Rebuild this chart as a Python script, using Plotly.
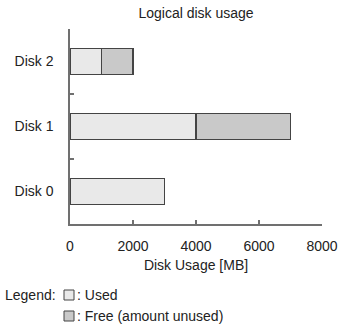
import plotly.graph_objects as go

disks = ["Disk 0", "Disk 1", "Disk 2"]
used = [3000, 4000, 1000]
free = [0, 3000, 1000]
x_ticks = [0, 2000, 4000, 6000, 8000]

USED_C = "#e9e9e9"
FREE_C = "#c9c9c9"
EDGE = "#444444"
AXIS = "#707070"
FONT = "Liberation Sans, Arial, sans-serif"

W, H = 341, 329
L, R, T, B = 70, 19, 29, 105
PW, PH = W - L - R, H - T - B

def px(x):
    return (x - L) / PW

def py(y):
    return (H - B - y) / PH

fig = go.Figure()
fig.add_trace(go.Bar(y=disks, x=used, orientation="h", name="Used",
                     marker=dict(color=USED_C, line=dict(color=EDGE, width=1.2)), width=0.4))
fig.add_trace(go.Bar(y=disks, x=free, orientation="h", name="Free",
                     marker=dict(color=FREE_C, line=dict(color=EDGE, width=1.2)), width=0.4))

fig.update_layout(
    barmode="stack", width=W, height=H, showlegend=False,
    margin=dict(l=L, r=R, t=T, b=B),
    plot_bgcolor="white", paper_bgcolor="white",
    font=dict(family=FONT, size=14, color="#222222"),
    title=dict(text="Logical disk usage", xref="paper", x=0.5, xanchor="center",
               yref="container", y=1 - 13 / H, yanchor="middle", font=dict(size=14)),
    xaxis=dict(range=[0, 8000], tickvals=x_ticks, ticks="inside", ticklen=4,
               tickcolor=AXIS, tickwidth=1.5, showline=True, linecolor=AXIS, linewidth=1.5,
               showgrid=False, zeroline=False, ticklabelstandoff=8, automargin=False,
               title=dict(text="Disk Usage [MB]", standoff=8, font=dict(size=14))),
    yaxis=dict(range=[-0.5, 2.5], ticks="inside", ticklen=4, tickcolor=AXIS, tickwidth=1.5,
               tickson="boundaries", showline=True, linecolor=AXIS, linewidth=1.5,
               showgrid=False, zeroline=False, ticklabelstandoff=12, automargin=False),
)

shapes = []
for y0, c in [(290, USED_C), (311, FREE_C)]:
    shapes.append(dict(type="rect", xref="paper", yref="paper",
                       x0=px(64), x1=px(74), y0=py(y0), y1=py(y0 + 10),
                       fillcolor=c, line=dict(color=EDGE, width=1)))
fig.update_layout(shapes=shapes)

ann = [("Legend:", 3, 295), (": Used", 75, 295), (": Free (amount unused)", 75, 316)]
for t, x, y in ann:
    fig.add_annotation(text=t, xref="paper", yref="paper", x=px(x), y=py(y),
                       xanchor="left", yanchor="middle", showarrow=False,
                       font=dict(size=14))

fig.write_html("out.html")
